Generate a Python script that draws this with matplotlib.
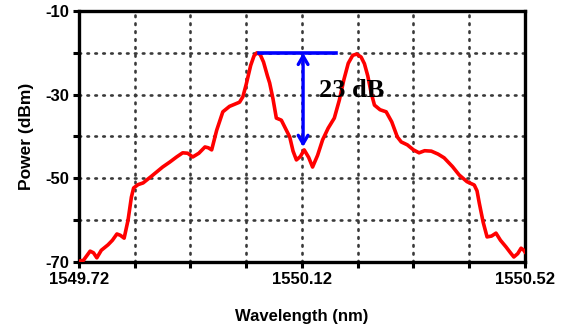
import matplotlib.pyplot as plt

# spectrum
wavelength = [1549.720, 1549.728, 1549.740, 1549.746, 1549.752, 1549.760, 1549.772,
              1549.780, 1549.788, 1549.794, 1549.801, 1549.808, 1549.814, 1549.818,
              1549.826, 1549.835, 1549.850, 1549.870, 1549.883, 1549.895, 1549.906,
              1549.915, 1549.924, 1549.935, 1549.946, 1549.952, 1549.958, 1549.967,
              1549.978, 1549.990, 1550.008, 1550.014, 1550.020, 1550.028, 1550.034,
              1550.039, 1550.045, 1550.051, 1550.058, 1550.062, 1550.068, 1550.074,
              1550.083, 1550.092, 1550.098, 1550.104, 1550.110, 1550.117, 1550.124,
              1550.132, 1550.139, 1550.148, 1550.157, 1550.167, 1550.178, 1550.187,
              1550.195, 1550.203, 1550.211, 1550.218, 1550.226, 1550.232, 1550.238,
              1550.244, 1550.250, 1550.260, 1550.271, 1550.281, 1550.291, 1550.298,
              1550.309, 1550.320, 1550.330, 1550.340, 1550.352, 1550.364, 1550.375,
              1550.390, 1550.402, 1550.416, 1550.429, 1550.434, 1550.438, 1550.445,
              1550.452, 1550.460, 1550.468, 1550.476, 1550.486, 1550.494, 1550.500,
              1550.507, 1550.513, 1550.518, 1550.520]
power = [-69.8, -69.6, -67.4, -67.8, -69.0, -67.2, -65.9,
         -64.8, -63.3, -63.6, -64.3, -60.0, -54.5, -52.3,
         -51.5, -51.1, -49.5, -47.3, -46.1, -44.9, -43.9,
         -44.0, -44.9, -44.0, -42.5, -42.7, -43.2, -38.5,
         -34.1, -32.8, -31.8, -30.5, -27.5, -23.0, -20.7,
         -20.0, -20.4, -22.2, -25.5, -27.2, -31.0, -35.6,
         -36.1, -38.5, -40.1, -43.5, -45.6, -44.8, -43.2,
         -45.0, -47.3, -44.5, -40.8, -38.0, -35.6, -31.3,
         -26.5, -22.5, -20.6, -20.3, -21.0, -22.6, -25.5,
         -29.5, -32.5, -33.6, -34.1, -36.5, -40.1, -41.3,
         -42.0, -43.2, -43.9, -43.4, -43.5, -44.2, -45.1,
         -47.2, -49.2, -50.8, -51.6, -53.0, -55.9, -60.5,
         -64.0, -63.8, -63.1, -64.8, -66.4, -67.8, -68.8,
         -68.0, -66.7, -67.2, -67.6]

x_ticks = [1549.72, 1549.82, 1549.92, 1550.02, 1550.12, 1550.22, 1550.32, 1550.42, 1550.52]
x_tick_labels = ['1549.72', '', '', '', '1550.12', '', '', '', '1550.52']
y_ticks = [-70, -60, -50, -40, -30, -20, -10]
y_tick_labels = ['-70', '', '-50', '', '-30', '', '-10']

# 23 dB marker
marker_top = -20.0
marker_bottom = -42.5
marker_x = 1550.122
marker_span = (1550.043, 1550.181)

plt.rcParams['font.family'] = 'Liberation Sans'
plt.rcParams['font.weight'] = 'bold'

fig = plt.figure(figsize=(5.74, 3.33), dpi=100)
ax = fig.add_axes([0.1376, 0.2132, 0.777, 0.7538])

ax.plot(wavelength, power, color='#ff0000', linewidth=2.6, zorder=3,
        solid_joinstyle='round')

# blue marker: flat top line and double arrow
ax.plot(marker_span, [marker_top, marker_top], color='#0000ff', linewidth=2.6, zorder=4)
ax.annotate('', xy=(marker_x, marker_bottom), xytext=(marker_x, marker_top),
            arrowprops=dict(arrowstyle='<->,head_length=0.6,head_width=0.35',
                            color='#0000ff', lw=2.4, shrinkA=0, shrinkB=0),
            zorder=4)
ax.text(1550.150, -30.6, '23 dB', family='Liberation Serif', fontweight='bold',
        fontsize=19, color='black', ha='left', va='baseline', zorder=5)

ax.set_xlim(1549.72, 1550.52)
ax.set_ylim(-70, -10)
ax.set_xticks(x_ticks)
ax.set_xticklabels(x_tick_labels)
ax.set_yticks(y_ticks)
ax.set_yticklabels(y_tick_labels)
ax.tick_params(axis='both', direction='out', length=4, width=2.2, labelsize=12, pad=3)

ax.grid(True, color='#3a3a3a', linestyle=(0, (0.6, 2.4)), linewidth=1.9,
        dash_capstyle='round')
for spine in ax.spines.values():
    spine.set_linewidth(2.4)
    spine.set_color('black')

ax.set_xlabel('Wavelength (nm)', fontsize=12, fontweight='bold', labelpad=16)
ax.set_ylabel('Power (dBm)', fontsize=12.5, fontweight='bold', labelpad=8)

fig.savefig('out.png', dpi=100)
